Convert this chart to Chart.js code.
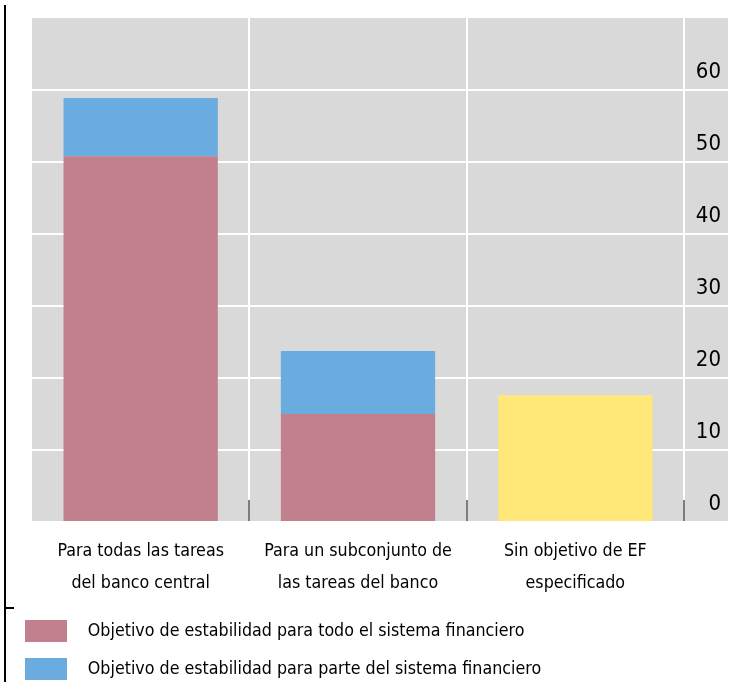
<!DOCTYPE html>
<html>
<head>
<meta charset="utf-8">
<script src="https://cdn.jsdelivr.net/npm/chart.js@4.4.1/dist/chart.umd.min.js"></script>
<style>
  html, body { margin: 0; padding: 0; background: #fff; }
  #wrap { width: 731px; height: 682px; position: relative; }
</style>
</head>
<body>
<div id="wrap"><canvas id="chart"></canvas></div>
<script>
// categories and series (percent of central banks)
const categories = [
    ['Para todas las tareas', 'del banco central'],
    ['Para un subconjunto de', 'las tareas del banco'],
    ['Sin objetivo de EF', 'especificado']
];
const seriesNames = [
    'Objetivo de estabilidad para todo el sistema financiero',
    'Objetivo de estabilidad para parte del sistema financiero',
    'Sin objetivo de EF especificado'
];
const wholeSystem = [50.8, 15.0, null];
const partSystem = [8.1, 8.75, null];
const noObjective = [null, null, 17.6];
const yTickLabels = [0, 10, 20, 30, 40, 50, 60];
const yMax = 70;

const FONT = "'Liberation Sans Narrow', 'DejaVu Sans Condensed', 'Liberation Sans', sans-serif";
const PINK = '#c27f8e';
const BLUE = '#6aace0';
const YELLOW = '#ffe878';
const PANEL = '#d9d9d9';

const legendPadding = 16;
const layoutLeft = 9;
const swatchSlot = 54;
const yTickLength = 44;

// gray panel behind the plot and the axis labels, plus the thin frame line on the left
const panelBackground = {
    id: 'panelBackground',
    beforeDraw(chart) {
        const { ctx, chartArea } = chart;
        const yScale = chart.scales.y;
        const right = yScale.left + yTickLength;
        ctx.save();
        ctx.fillStyle = PANEL;
        ctx.fillRect(chartArea.left, chartArea.top, right - chartArea.left, chartArea.bottom - chartArea.top);
        ctx.strokeStyle = '#000';
        ctx.lineWidth = 2;
        ctx.beginPath();
        ctx.moveTo(5, 5);
        ctx.lineTo(5, chart.height);
        ctx.moveTo(5, 608);
        ctx.lineTo(14, 608);
        ctx.stroke();
        ctx.restore();
    }
};

// legend swatch is 42px wide but the text sits further right
function swatch(ctx, color) {
    const x0 = layoutLeft + legendPadding;
    const g = ctx.createLinearGradient(x0, 0, x0 + swatchSlot, 0);
    g.addColorStop(0, color);
    g.addColorStop(42 / swatchSlot, color);
    g.addColorStop(42 / swatchSlot, 'rgba(0,0,0,0)');
    g.addColorStop(1, 'rgba(0,0,0,0)');
    return g;
}

const ctx = document.getElementById('chart').getContext('2d');
new Chart(ctx, {
    type: 'bar',
    data: {
        labels: categories,
        datasets: [
            { label: seriesNames[0], data: wholeSystem, backgroundColor: PINK, xAxisID: 'x', yAxisID: 'y' },
            { label: seriesNames[1], data: partSystem, backgroundColor: BLUE, xAxisID: 'x', yAxisID: 'y' },
            { label: seriesNames[2], data: noObjective, backgroundColor: YELLOW, xAxisID: 'x', yAxisID: 'y' }
        ]
    },
    options: {
        responsive: true,
        maintainAspectRatio: false,
        animation: false,
        layout: { padding: { left: layoutLeft, top: 18, right: 10, bottom: -8 } },
        datasets: { bar: { categoryPercentage: 1, barPercentage: 0.71 } },
        plugins: {
            tooltip: { enabled: false },
            legend: {
                position: 'bottom',
                align: 'start',
                labels: {
                    boxWidth: swatchSlot,
                    boxHeight: 22,
                    padding: legendPadding,
                    color: '#000',
                    font: { family: FONT, size: 17.7 },
                    filter: item => item.datasetIndex < 2,
                    generateLabels(chart) {
                        return chart.data.datasets.map((ds, i) => ({
                            text: ds.label,
                            fillStyle: swatch(chart.ctx, ds.backgroundColor),
                            strokeStyle: 'rgba(0,0,0,0)',
                            lineWidth: 0,
                            fontColor: '#000',
                            hidden: false,
                            datasetIndex: i
                        }));
                    }
                }
            }
        },
        scales: {
            x: {
                stacked: true,
                afterFit(s) { s.height = 82; },
                grid: {
                    offset: true,
                    color: c => c.index === 0 ? 'rgba(0,0,0,0)' : '#ffffff',
                    lineWidth: 2,
                    tickLength: -22,
                    tickColor: c => c.index === 0 ? 'rgba(0,0,0,0)' : '#262626',
                    tickWidth: 1.2
                },
                border: { display: false },
                ticks: {
                    color: '#000',
                    padding: 34.5,
                    maxRotation: 0,
                    autoSkip: false,
                    font: { family: FONT, size: 17.7, lineHeight: 1.86 }
                }
            },
            yl: {
                type: 'linear',
                position: 'left',
                afterFit(s) { s.width = 23; },
                grid: { display: false },
                border: { display: false },
                ticks: { display: false }
            },
            y: {
                type: 'linear',
                position: 'right',
                stacked: true,
                min: 0,
                max: yMax,
                afterFit(s) { s.width = 37; },
                grid: {
                    color: c => c.tick && c.tick.value === yMax ? 'rgba(0,0,0,0)' : '#ffffff',
                    tickColor: c => c.tick && c.tick.value === yMax ? 'rgba(0,0,0,0)' : '#ffffff',
                    lineWidth: 2,
                    tickLength: yTickLength
                },
                border: { display: false },
                ticks: {
                    stepSize: 10,
                    crossAlign: 'far',
                    labelOffset: -18,
                    color: '#000',
                    font: { family: FONT, size: 22 },
                    callback: v => yTickLabels.includes(v) ? String(v) : ''
                }
            }
        }
    },
    plugins: [panelBackground]
});
</script>
</body>
</html>
